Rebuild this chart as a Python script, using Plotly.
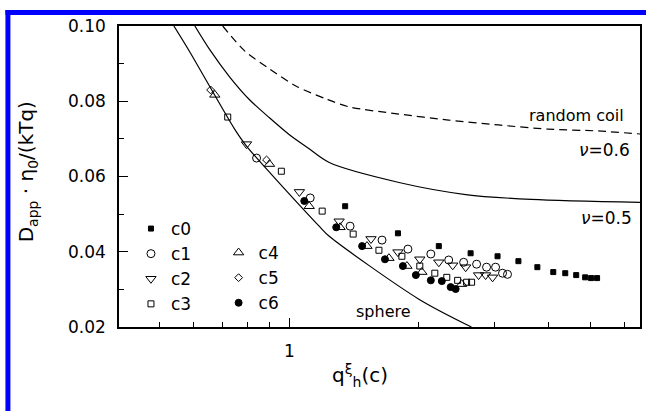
import plotly.graph_objects as go

# ---- theory curves ----
sphere_x = [0.539, 0.587, 0.746, 0.795, 1.173, 1.238, 2.0, 2.65]
sphere_y = [0.100, 0.0931, 0.0726, 0.0681, 0.0468, 0.0441, 0.0274, 0.020]

nu05_x = [0.603, 0.653, 0.726, 0.808, 0.899, 1.0, 1.101, 1.238, 1.798, 2.57, 3.65, 6.53]
nu05_y = [0.100, 0.0937, 0.0865, 0.0804, 0.0756, 0.0711, 0.0677, 0.0637, 0.0584, 0.0552, 0.0539, 0.0531]

coil_x = [0.700, 0.787, 0.899, 1.038, 1.218, 1.377, 1.798, 2.344, 3.06, 3.99, 5.22, 6.53]
coil_y = [0.100, 0.0934, 0.0886, 0.0840, 0.0806, 0.0785, 0.0766, 0.0750, 0.0737, 0.0726, 0.0721, 0.0713]

# ---- measured series ----
c0_x = [1.348, 1.788, 2.225, 2.638, 3.047, 3.407, 3.771, 4.106, 4.378, 4.642, 4.870, 5.028, 5.191]
c0_y = [0.0521, 0.0449, 0.0415, 0.0396, 0.0388, 0.0375, 0.0359, 0.0346, 0.0343, 0.0338, 0.0332, 0.0330, 0.0330]

c1_x = [0.839, 1.118, 1.384, 1.642, 1.886, 2.132, 2.346, 2.541, 2.724, 2.873, 3.015, 3.129, 3.214]
c1_y = [0.0649, 0.0543, 0.0468, 0.0431, 0.0407, 0.0394, 0.0378, 0.0372, 0.0367, 0.0359, 0.0359, 0.0343, 0.0340]

c2_x = [0.795, 1.055, 1.305, 1.548, 1.788, 2.010, 2.225, 2.397, 2.569, 2.753, 2.858, 2.967]
c2_y = [0.0686, 0.0559, 0.0481, 0.0434, 0.0399, 0.0380, 0.0372, 0.0364, 0.0359, 0.0338, 0.0338, 0.0332]

c3_x = [0.719, 0.958, 1.192, 1.407, 1.615, 1.826, 2.010, 2.178, 2.322, 2.461, 2.582, 2.652]
c3_y = [0.0758, 0.0614, 0.0508, 0.0447, 0.0404, 0.0388, 0.0362, 0.0343, 0.0332, 0.0324, 0.0319, 0.0319]

c4_x = [0.671, 0.899, 1.112, 1.312, 1.515, 1.704, 1.876, 2.032, 2.514]
c4_y = [0.0817, 0.0633, 0.0521, 0.0465, 0.0415, 0.0383, 0.0362, 0.0346, 0.0314]

c5_x = [0.656, 0.885]
c5_y = [0.0830, 0.0644]

c6_x = [1.083, 1.285, 1.476, 1.668, 1.836, 1.968, 2.132, 2.261, 2.371, 2.435]
c6_y = [0.0535, 0.0465, 0.0415, 0.0380, 0.0362, 0.0338, 0.0324, 0.0322, 0.0306, 0.0301]

# ---- axis ticks ----
y_ticks = [0.02, 0.04, 0.06, 0.08, 0.10]
y_ticktext = ["0.02", "0.04", "0.06", "0.08", "0.10"]
y_minor = [0.03, 0.05, 0.07, 0.09]
x_ticks = [1]
x_ticktext = ["1"]
x_minor = [0.5, 0.6, 0.7, 0.8, 0.9, 2, 3, 4, 5, 6]

X_RANGE = [-0.396, 0.815]
Y_RANGE = [0.02, 0.10]

FONT = "DejaVu Sans"
fig = go.Figure()

curve_line = dict(color="black", width=1.2, shape="spline", smoothing=0.8)
fig.add_trace(go.Scatter(x=sphere_x, y=sphere_y, mode="lines", line=curve_line,
                         showlegend=False, hoverinfo="skip"))
fig.add_trace(go.Scatter(x=nu05_x, y=nu05_y, mode="lines", line=curve_line,
                         showlegend=False, hoverinfo="skip"))
fig.add_trace(go.Scatter(x=coil_x, y=coil_y, mode="lines",
                         line=dict(color="black", width=1.2, shape="spline", smoothing=0.8, dash="8px,5px"),
                         showlegend=False, hoverinfo="skip"))

series = [
    ("c0", c0_x, c0_y, "square", 5, "legend"),
    ("c1", c1_x, c1_y, "circle-open", 8, "legend"),
    ("c2", c2_x, c2_y, "triangle-down-open", 9, "legend"),
    ("c3", c3_x, c3_y, "square-open", 6, "legend"),
    ("c4", c4_x, c4_y, "triangle-up-open", 9, "legend2"),
    ("c5", c5_x, c5_y, "diamond-open", 6, "legend2"),
    ("c6", c6_x, c6_y, "circle", 7, "legend2"),
]
for name, xs, ys, sym, size, leg in series:
    fig.add_trace(go.Scatter(
        x=xs, y=ys, mode="markers", name=name, legend=leg,
        marker=dict(symbol=sym, size=size, color="black",
                    line=dict(color="black", width=1)),
    ))

W, H = 646, 411
L, R, T, B = 119, 4, 26, 84
PW, PH = W - L - R, H - T - B


def px(xp):
    return (xp - L) / PW


def py(yp):
    return (T + PH - yp) / PH


fig.update_layout(
    width=W, height=H,
    margin=dict(l=L, r=R, t=T, b=B),
    paper_bgcolor="white", plot_bgcolor="white",
    font=dict(family=FONT, color="black", size=16),
    xaxis=dict(type="log", range=X_RANGE, showgrid=False, zeroline=False,
               showline=True, linecolor="black", linewidth=1.5, mirror=True,
               tickvals=x_ticks, ticktext=x_ticktext, ticks="inside", ticklen=9,
               tickwidth=1.2, tickcolor="black", ticklabelstandoff=8,
               tickfont=dict(family=FONT, size=17),
               minor=dict(tickvals=x_minor, ticks="inside", ticklen=5,
                          tickwidth=1, tickcolor="black")),
    yaxis=dict(range=Y_RANGE, showgrid=False, zeroline=False,
               showline=True, linecolor="black", linewidth=1.5, mirror=True,
               tickvals=y_ticks, ticktext=y_ticktext, ticks="inside", ticklen=9,
               tickwidth=1.2, tickcolor="black", ticklabelstandoff=8,
               tickfont=dict(family=FONT, size=17),
               minor=dict(tickvals=y_minor, ticks="inside", ticklen=5,
                          tickwidth=1, tickcolor="black")),
    xaxis2=dict(type="log", range=X_RANGE, overlaying="x", side="top", anchor="y",
                showgrid=False, zeroline=False, showline=False,
                tickvals=x_ticks, ticks="inside", ticklen=9, tickwidth=1.2,
                tickcolor="black", showticklabels=False),
    yaxis2=dict(range=Y_RANGE, overlaying="y", side="right", anchor="x",
                showgrid=False, zeroline=False, showline=False,
                tickvals=[0.04, 0.06, 0.08], ticks="inside", ticklen=9, tickwidth=1.2,
                tickcolor="black", showticklabels=False),
    legend=dict(x=px(131), y=py(211), xanchor="left", yanchor="top",
                bgcolor="rgba(0,0,0,0)", font=dict(family=FONT, size=17),
                itemwidth=30, tracegroupgap=0),
    legend2=dict(x=px(219), y=py(235), xanchor="left", yanchor="top",
                 bgcolor="rgba(0,0,0,0)", font=dict(family=FONT, size=17),
                 itemwidth=30, tracegroupgap=0),
    showlegend=True,
)

annots = [
    dict(text="random coil", x=px(628), y=py(116), xanchor="right", yanchor="middle", size=16),
    dict(text="<i>ν</i>=0.6", x=px(634), y=py(150), xanchor="right", yanchor="middle", size=17),
    dict(text="<i>ν</i>=0.5", x=px(636), y=py(218), xanchor="right", yanchor="middle", size=17),
    dict(text="sphere", x=px(385), y=py(311), xanchor="center", yanchor="middle", size=16),
    dict(text="q<sup>ξ</sup><sub>h</sub>(c)", x=px(361), y=py(375), xanchor="center",
         yanchor="middle", size=20),
]
for a in annots:
    fig.add_annotation(text=a["text"], x=a["x"], y=a["y"], xref="paper", yref="paper",
                       xanchor=a["xanchor"], yanchor=a["yanchor"], showarrow=False,
                       font=dict(family=FONT, size=a["size"], color="black"))

fig.add_annotation(text="D<sub>app</sub> · η<sub>0</sub>/(kTq)", x=px(27), y=py(172),
                   xref="paper", yref="paper", xanchor="center", yanchor="middle",
                   textangle=-90, showarrow=False,
                   font=dict(family=FONT, size=20, color="black"))

# blue frame of the original figure
fig.add_shape(type="rect", xref="paper", yref="paper",
              x0=px(5), x1=px(650), y0=py(15), y1=py(10),
              fillcolor="#0000ff", line=dict(width=0), layer="above")
fig.add_shape(type="rect", xref="paper", yref="paper",
              x0=px(5), x1=px(10), y0=py(415), y1=py(10),
              fillcolor="#0000ff", line=dict(width=0), layer="above")

fig.write_html("out.html")
